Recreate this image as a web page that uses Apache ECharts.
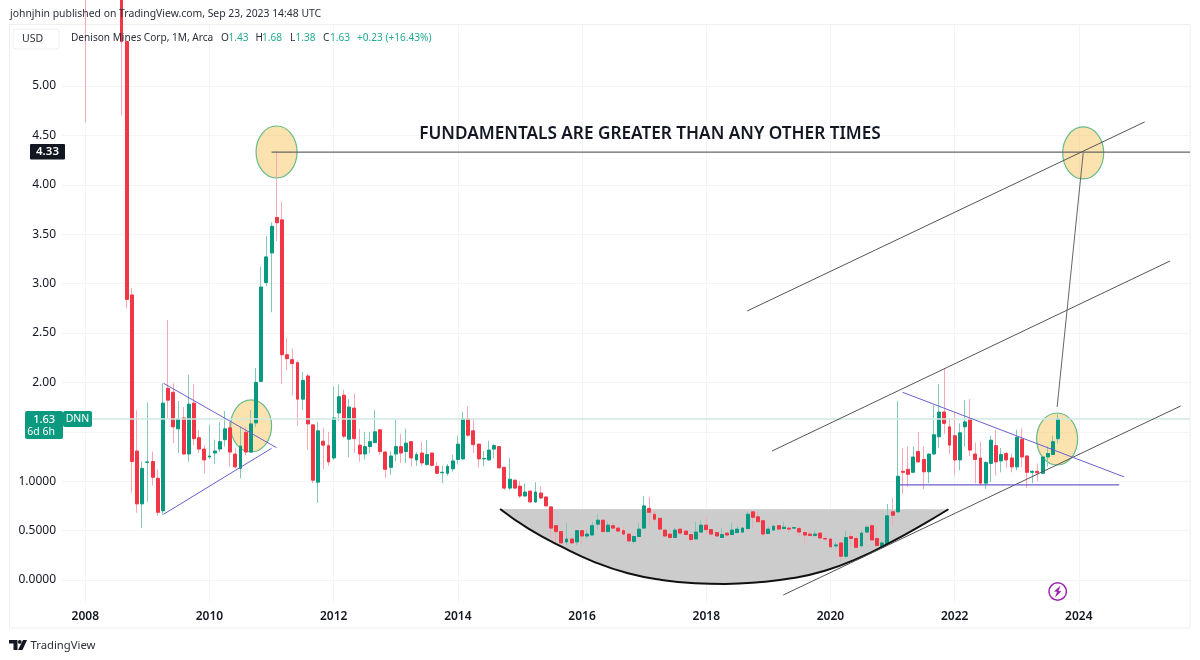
<!DOCTYPE html>
<html>
<head>
<meta charset="utf-8">
<title>Denison Mines Corp, 1M</title>
<script src="https://cdn.jsdelivr.net/npm/echarts@6/dist/echarts.min.js"></script>
<style type="text/css">
html, body { margin: 0; padding: 0; background: #fff; }
#tx { width: 1200px; height: 660px; }
</style>
</head>
<body>
<div id="tx"></div>
<script>
// monthly bars, Jan 2008 - Sep 2023, one row per year
var opens = [
    6.40, 6.05, 6.60, 6.10, 7.00, 7.60, 7.20, 6.60, 5.45, 2.885, 1.305, .77,
    1.19, 1.20, 1.03, .70, 1.94, 1.90, 1.53, 1.64, 1.275, 1.79, 1.44, 1.325,
    1.245, 1.285, 1.325, 1.42, 1.54, 1.275, 1.13, 1.495, 1.295, 1.59, 2.01, 3.01,
    3.31, 3.67, 3.645, 2.28, 2.23, 2.20, 1.83, 2.065, 1.57, .99, 1.405, 1.36,
    1.235, 1.69, 1.87, 1.425, 1.74, 1.365, 1.275, 1.35, 1.39, 1.52, 1.295, 1.14,
    1.275, 1.35, 1.30, 1.40, 1.215, 1.285, 1.17, 1.285, 1.15, 1.085, 1.08, 1.125,
    1.22, 1.225, 1.63, 1.51, 1.375, 1.225, 1.215, 1.325, 1.35, 1.14, .93, 1.01,
    .95, .85, .90, .79, .88, .84, .74, .55, .49, .385, .415, .385,
    .50, .445, .455, .565, .605, .49, .55, .525, .50, .465, .39, .44,
    .525, .725, .665, .625, .505, .465, .43, .515, .495, .46, .415, .485,
    .555, .51, .48, .43, .475, .46, .48, .485, .52, .69, .64, .60,
    .47, .505, .55, .52, .525, .525, .52, .48, .465, .45, .475, .42,
    .415, .345, .375, .24, .44, .42, .345, .485, .55, .42, .33, .365,
    .69, .69, 1.10, 1.12, 1.09, 1.30, 1.22, 1.095, 1.275, 1.45, 1.70, 1.55,
    1.46, 1.215, 1.55, 1.63, 1.275, 1.235, .98, 1.18, 1.36, 1.205, 1.28, 1.235,
    1.145, 1.425, 1.255, 1.09, 1.10, 1.08, 1.245, 1.27, 1.43
];
var closes = [
    6.05, 6.60, 6.10, 7.00, 7.60, 7.20, 6.60, 5.45, 2.84, 1.20, .77, 1.13,
    1.195, 1.04, .685, 1.79, 1.82, 1.55, 1.63, 1.275, 1.78, 1.43, 1.325, 1.215,
    1.255, 1.305, 1.40, 1.53, 1.295, 1.145, 1.355, 1.295, 1.58, 2.00, 2.965, 3.27,
    3.58, 3.615, 2.28, 2.24, 2.19, 1.83, 2.02, 1.58, 1.01, 1.51, 1.365, 1.195,
    1.64, 1.855, 1.455, 1.75, 1.43, 1.275, 1.35, 1.40, 1.50, 1.30, 1.12, 1.255,
    1.35, 1.285, 1.385, 1.235, 1.27, 1.185, 1.27, 1.16, 1.08, 1.09, 1.15, 1.205,
    1.375, 1.63, 1.465, 1.37, 1.225, 1.23, 1.315, 1.36, 1.135, .93, 1.02, .93,
    .85, .89, .79, .89, .83, .75, .525, .49, .375, .415, .375, .50,
    .445, .465, .55, .605, .49, .555, .525, .495, .465, .395, .44, .515,
    .75, .685, .615, .515, .445, .43, .505, .475, .46, .41, .485, .555,
    .51, .465, .445, .46, .455, .505, .515, .525, .665, .635, .59, .465,
    .515, .545, .515, .535, .515, .53, .485, .455, .45, .465, .425, .415,
    .335, .355, .24, .43, .42, .33, .475, .535, .405, .35, .375, .65,
    .655, 1.05, 1.09, 1.07, 1.245, 1.195, 1.095, 1.275, 1.47, 1.70, 1.585, 1.365,
    1.215, 1.49, 1.60, 1.315, 1.22, .98, 1.19, 1.415, 1.195, 1.27, 1.215, 1.145,
    1.445, 1.245, 1.09, 1.10, 1.085, 1.245, 1.28, 1.40, 1.63
];
var lows = [
    4.63, 5.80, 5.75, 5.90, 6.60, 6.80, 5.90, 4.70, 2.75, .884, .68, .525,
    .79, .955, .65, .66, 1.64, 1.385, 1.285, 1.265, 1.195, 1.365, 1.285, 1.08,
    1.225, 1.175, 1.295, 1.35, 1.145, 1.13, 1.03, 1.265, 1.29, 1.55, 2.00, 2.975,
    2.71, 3.43, 1.985, 2.125, 1.87, 1.56, 1.72, 1.315, .98, .78, 1.12, 1.155,
    1.215, 1.61, 1.435, 1.245, 1.285, 1.195, 1.22, 1.285, 1.385, 1.265, 1.03, 1.065,
    1.205, 1.185, 1.185, 1.145, 1.155, 1.155, 1.155, 1.15, 1.07, .98, 1.055, 1.095,
    1.17, 1.22, 1.45, 1.285, 1.14, 1.15, 1.21, 1.23, 1.13, .91, .91, .92,
    .83, .84, .78, .78, .82, .74, .425, .385, .37, .355, .365, .355,
    .365, .415, .45, .515, .485, .485, .51, .49, .46, .39, .37, .435,
    .52, .555, .59, .505, .44, .415, .425, .455, .455, .385, .41, .48,
    .455, .44, .44, .425, .445, .455, .475, .475, .515, .525, .585, .45,
    .465, .50, .51, .515, .48, .52, .44, .375, .445, .44, .42, .39,
    .33, .32, .19, .225, .335, .32, .34, .475, .40, .32, .32, .36,
    .55, .68, .87, .94, 1.085, 1.19, .92, .98, 1.27, 1.335, 1.48, 1.275,
    1.06, 1.11, 1.35, 1.255, .98, .96, .92, .99, 1.06, 1.09, 1.13, 1.09,
    1.11, 1.14, .93, .98, 1.00, 1.075, 1.145, 1.265, 1.38
];
var highs = [
    7.20, 7.00, 7.20, 7.40, 8.00, 8.20, 7.60, 7.00, 5.45, 2.955, 1.72, 1.20,
    1.795, 1.30, 1.12, 1.99, 2.63, 1.99, 1.81, 1.75, 2.075, 1.98, 1.52, 1.365,
    1.57, 1.42, 1.60, 1.71, 1.60, 1.335, 1.55, 1.55, 1.72, 2.145, 3.17, 3.48,
    3.62, 4.34, 3.83, 2.45, 2.34, 2.22, 2.105, 2.085, 1.57, 1.60, 1.535, 1.50,
    1.955, 1.98, 1.925, 1.83, 1.89, 1.53, 1.50, 1.50, 1.72, 1.525, 1.305, 1.30,
    1.62, 1.48, 1.53, 1.405, 1.295, 1.40, 1.415, 1.29, 1.195, 1.155, 1.175, 1.265,
    1.46, 1.70, 1.76, 1.63, 1.38, 1.305, 1.41, 1.375, 1.355, 1.145, 1.235, 1.015,
    1.00, .98, .905, .99, .95, .85, .745, .555, .495, .575, .425, .505,
    .505, .505, .59, .665, .61, .59, .575, .54, .54, .47, .45, .575,
    .85, .84, .70, .63, .51, .47, .525, .52, .505, .465, .59, .605,
    .64, .515, .485, .525, .48, .585, .54, .54, .69, .695, .69, .605,
    .54, .55, .555, .59, .54, .54, .545, .50, .49, .495, .48, .445,
    .42, .385, .385, .50, .485, .445, .50, .55, .575, .535, .395, .77,
    .83, 1.81, 1.335, 1.35, 1.35, 1.50, 1.35, 1.28, 1.77, 1.98, 2.145, 1.64,
    1.70, 1.585, 1.82, 1.83, 1.39, 1.40, 1.20, 1.46, 1.52, 1.335, 1.30, 1.28,
    1.52, 1.535, 1.265, 1.11, 1.18, 1.25, 1.35, 1.46, 1.68
];

var firstYear = 2008;
var yearTicks = [2008, 2010, 2012, 2014, 2016, 2018, 2020, 2022, 2024];
var gridPrices = [0, 0.5, 1, 1.5, 2, 2.5, 3, 3.5, 4, 4.5, 5];
var labelPrices = [0, 0.5, 1, 2, 2.5, 3, 3.5, 4, 4.5, 5];
var lastPrice = 1.63;
var levelPrice = 4.33;

// drawings, [year, price]
var arcPoints = [[2014.68, .719], [2015.13, .523], [2015.67, .337], [2016.21, .179], [2016.74, .068],
    [2017.28, 0], [2017.82, -.033], [2018.30, -.040], [2018.84, -.023], [2019.37, .017], [2019.91, .094],
    [2020.45, .220], [2020.99, .388], [2021.52, .574], [2021.90, .716]];
var ellipseCenters = [[2011.08, 4.332], [2010.67, 1.559], [2023.65, 1.427], [2024.07, 4.322]];
var channelTop = [[2018.66, 2.723], [2025.06, 4.636]];
var channelMid = [[2019.06, 1.306], [2025.47, 3.229]];
var channelLow = [[2019.24, -.152], [2025.64, 1.761]];
var connector = [[2023.65, 1.751], [2024.07, 4.32]];
var triangleUp = [[2009.26, 1.991], [2011.08, 1.339]];
var triangleLow = [[2009.26, .665], [2011.00, 1.333]];
var wedgeTop = [[2021.16, 1.90], [2024.73, 1.043]];
var wedgeFlat = [[2021.12, .962], [2024.65, .962]];

var xMin = 2007.625;
var xMax = 2025.79;

var wickData = [];
var bodyData = [];
for (var i = 0; i < opens.length; i++) {
    var x = firstYear + i / 12;
    wickData.push([x, opens[i], closes[i], lows[i], highs[i]]);
    bodyData.push([x, opens[i], closes[i], Math.min(opens[i], closes[i]), Math.max(opens[i], closes[i])]);
}

function drawnLine(points, color, width) {
    return {
        type: 'line',
        data: points,
        symbol: 'none',
        silent: true,
        z: 6,
        lineStyle: { color: color, width: width }
    };
}

var fontName = '"Noto Sans", sans-serif';
var darkText = '#131722';
var upColor = '#089981';
var downColor = '#f23645';
var valueColor = '#22ab94';

function label(x, y, text, size, color, weight, align) {
    return {
        type: 'text', x: x, y: y, z: 30,
        style: {
            text: text, fontSize: size, fontFamily: fontName, fontWeight: weight || 'normal',
            fill: color || darkText, textAlign: align || 'left', textVerticalAlign: 'middle'
        }
    };
}

var myChart = echarts.init(document.getElementById('tx'));
var option = {
    animation: false,
    backgroundColor: '#fff',
    grid: { left: 62, right: 10, top: 25, bottom: 58 },
    xAxis: {
        type: 'value',
        min: xMin,
        max: xMax,
        axisLine: { show: false },
        axisTick: { show: false, customValues: yearTicks },
        splitLine: { show: true, lineStyle: { color: '#f3f4f6', width: 1 } },
        axisLabel: {
            customValues: yearTicks,
            margin: 9,
            color: darkText,
            fontSize: 12,
            fontWeight: 600,
            fontFamily: fontName,
            formatter: function (v) { return String(v); }
        }
    },
    yAxis: {
        type: 'value',
        min: -0.2227,
        max: 5.617,
        axisLine: { show: false },
        axisTick: { show: false, customValues: gridPrices },
        splitLine: { show: true, lineStyle: { color: '#f3f4f6', width: 1 } },
        axisLabel: {
            customValues: labelPrices,
            margin: 6,
            padding: [2, 0, 0, 0],
            color: darkText,
            fontSize: 12,
            fontFamily: fontName,
            formatter: function (v) { return v <= 1 ? v.toFixed(4) : v.toFixed(2); }
        }
    },
    series: [
        {
            type: 'custom',
            silent: true,
            z: 1,
            data: [0],
            renderItem: function (params, api) {
                var pts = arcPoints.map(function (p) { return api.coord(p); });
                return {
                    type: 'polygon',
                    shape: { points: pts },
                    style: { fill: '#cccccc' }
                };
            }
        },
        {
            type: 'custom',
            silent: true,
            z: 2,
            data: ellipseCenters,
            renderItem: function (params, api) {
                var c = api.coord([api.value(0), api.value(1)]);
                var edge = api.coord([api.value(0) + 0.33, api.value(1) + 0.263]);
                return {
                    type: 'ellipse',
                    shape: { cx: c[0], cy: c[1], rx: edge[0] - c[0], ry: c[1] - edge[1] },
                    style: { fill: 'rgba(248,200,100,0.52)', stroke: '#66bb8a', lineWidth: 1.2 }
                };
            }
        },
        drawnLine([[xMin, lastPrice], [xMax, lastPrice]], '#cfe8e2', 1.5),
        {
            type: 'candlestick',
            silent: true,
            z: 3,
            barWidth: 1,
            itemStyle: { color: '#82c9b8', color0: '#f6a9b3', borderColor: '#82c9b8', borderColor0: '#f6a9b3', borderWidth: 1 },
            data: wickData
        },
        {
            type: 'candlestick',
            silent: true,
            z: 4,
            barWidth: 3.4,
            itemStyle: { color: upColor, color0: downColor, borderColor: upColor, borderColor0: downColor, borderWidth: 1 },
            data: bodyData
        },
        {
            type: 'line',
            data: arcPoints,
            smooth: 0.5,
            symbol: 'none',
            silent: true,
            z: 6,
            lineStyle: { color: '#111', width: 2 }
        },
        drawnLine([[2011.0, levelPrice], [xMax, levelPrice]], '#666', 1.2),
        drawnLine(channelTop, '#555', 1),
        drawnLine(channelMid, '#555', 1),
        drawnLine(channelLow, '#555', 1),
        drawnLine(connector, '#666', 1),
        drawnLine(triangleUp, '#6a5fd0', 1),
        drawnLine(triangleLow, '#6a5fd0', 1),
        drawnLine(wedgeTop, '#6a5fd0', 1),
        drawnLine(wedgeFlat, '#6a5fd0', 1.2)
    ],
    graphic: [
        // frame around the pane
        { type: 'rect', z: 0, shape: { x: 9.5, y: 24.5, width: 1180.5, height: 603.5 }, style: { fill: 'none', stroke: '#eceef2', lineWidth: 1 } },

        label(10, 14, 'johnjhin published on TradingView.com, Sep 23, 2023 14:48 UTC', 10.4, '#2a2e39'),

        { type: 'rect', z: 20, shape: { x: 13, y: 29, width: 46, height: 20, r: 3 }, style: { fill: '#fff', stroke: '#eceef2', lineWidth: 1 } },
        label(22, 39.5, 'USD', 10.5, '#2a2e39'),

        label(71, 38.5, 'Denison Mines Corp, 1M, Arca', 10.1, '#2a2e39'),
        label(221, 38.5, 'O', 10.1, '#2a2e39'),
        label(228.5, 38.5, '1.43', 10.1, valueColor),
        label(255.5, 38.5, 'H', 10.1, '#2a2e39'),
        label(262, 38.5, '1.68', 10.1, valueColor),
        label(290, 38.5, 'L', 10.1, '#2a2e39'),
        label(295.5, 38.5, '1.38', 10.1, valueColor),
        label(323, 38.5, 'C', 10.1, '#2a2e39'),
        label(330, 38.5, '1.63', 10.1, valueColor),
        label(357, 38.5, '+0.23 (+16.43%)', 10.1, valueColor),

        label(650, 134, 'FUNDAMENTALS ARE GREATER THAN ANY OTHER TIMES', 17.2, '#131722', 600, 'center'),

        // last price and level tags
        { type: 'rect', z: 20, shape: { x: 25, y: 411, width: 38, height: 28, r: 2 }, style: { fill: '#0b9a80' } },
        { type: 'rect', z: 20, shape: { x: 63, y: 411, width: 29, height: 16, r: 2 }, style: { fill: '#0b9a80' } },
        label(55, 419.5, '1.63', 11, '#fff', 500, 'right'),
        label(55, 432.5, '6d 6h', 10.5, '#fff', 'normal', 'right'),
        label(77.5, 419.5, 'DNN', 10.5, '#fff', 'normal', 'center'),
        { type: 'rect', z: 20, shape: { x: 30, y: 144, width: 35, height: 15.5, r: 1 }, style: { fill: '#131722' } },
        label(47.5, 152, '4.33', 11.5, '#fff', 600, 'center'),

        // lightning event
        { type: 'circle', z: 20, shape: { cx: 1057.7, cy: 591.5, r: 8.7 }, style: { fill: '#fff', stroke: '#9c27b0', lineWidth: 1.5 } },
        { type: 'polygon', z: 21, shape: { points: [[1060.5, 585.5], [1054, 591.5], [1057, 591.8], [1055, 597.5], [1061.5, 591.2], [1058.5, 591]] }, style: { fill: '#9c27b0' } },

        // TradingView mark
        { type: 'polygon', z: 20, shape: { points: [[9, 640], [17.5, 640], [17.5, 650], [13.5, 650], [13.5, 643.5], [9, 643.5]] }, style: { fill: '#131722' } },
        { type: 'circle', z: 20, shape: { cx: 19.8, cy: 641.9, r: 1.9 }, style: { fill: '#131722' } },
        { type: 'polygon', z: 20, shape: { points: [[23, 640], [27, 640], [22.5, 650], [18, 650]] }, style: { fill: '#131722' } },
        label(30.5, 645.5, 'TradingView', 11.3, '#2a2e39')
    ]
};
myChart.setOption(option);
</script>
</body>
</html>
